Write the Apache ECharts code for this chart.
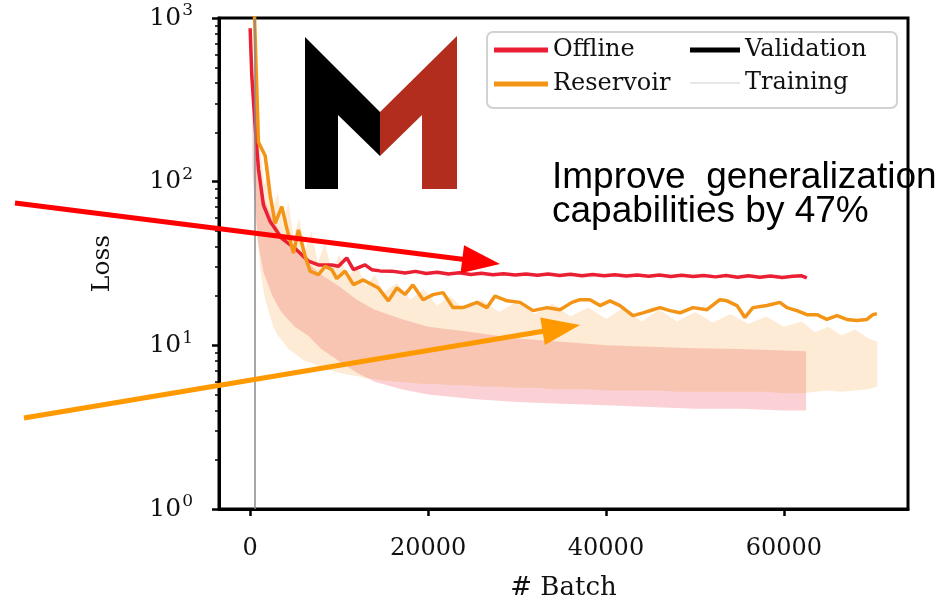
<!DOCTYPE html>
<html>
<head>
<meta charset="utf-8">
<script src="https://cdn.jsdelivr.net/npm/echarts@6/dist/echarts.min.js"></script>
<style>
  html, body { margin: 0; padding: 0; background: #fff; }
  #chart { width: 944px; height: 606px; }
</style>
</head>
<body>
<div id="chart"></div>
<script>
// validation loss, offline training (red)
const offlineValBatch = [0, 190, 560, 935, 1500, 2250, 3560, 5060, 6550, 7680,
  9180, 9930, 10860, 11610, 12920, 13670, 14600, 15920, 17420, 18600,
  19800, 21000, 22300, 23500, 24800, 26000, 27300, 28500, 29800, 31000,
  32300, 33500, 34800, 36000, 37300, 38500, 39800, 41000, 42300, 43500,
  44800, 46000, 47300, 48500, 49800, 51000, 52300, 53500, 54800, 56000,
  57300, 58500, 59800, 61000, 62000, 62580];
const offlineValLoss = [866, 441, 219, 120, 71.8, 57, 45, 39, 32.7, 31,
  31, 30.4, 34.2, 29, 31, 29, 28.5, 28.4, 27.7, 28.3,
  27.5, 28.0, 27.3, 27.8, 27.1, 27.6, 27.0, 27.4, 26.9, 27.3,
  26.8, 27.3, 26.7, 27.2, 26.6, 27.1, 26.6, 27.0, 26.5, 26.9,
  26.4, 26.9, 26.3, 26.8, 26.3, 26.7, 26.2, 26.7, 26.1, 26.6,
  26.1, 26.5, 26.0, 26.4, 26.6, 25.8];

// validation loss, reservoir training (orange)
const reservoirValBatch = [450, 935, 1690, 2250, 2810, 3560, 4120, 4870, 5430, 6180,
  6740, 7680, 8430, 9180, 9740, 10670, 11610, 12730, 14420, 15540,
  16480, 17420, 18300, 19440, 20560, 21690, 22800, 23930, 25500, 26630,
  27530, 28880, 30340, 31800, 33370, 34830, 36180, 37080, 38200, 39330,
  40450, 41570, 43030, 44160, 45280, 46070, 47190, 48310, 49780, 51350,
  52810, 53600, 54720, 55620, 56520, 58090, 59550, 60340, 61460, 62580,
  63710, 64830, 65960, 67080, 68200, 69330, 70000, 70450];
const reservoirValLoss = [1200, 174, 144, 82.6, 55.6, 70.3, 51.9, 36.6, 50.7, 35,
  28.4, 27, 30.4, 29, 25.6, 28.4, 23.5, 25.1, 22.4, 18.7,
  22.4, 20.5, 23.4, 19, 20.4, 21, 17, 17, 18.3, 17,
  20, 18.7, 18.3, 16.3, 17, 16.5, 18.3, 19, 19, 17.5,
  18.7, 17.5, 15.2, 15.8, 16.5, 17, 16.3, 15.8, 17, 16.5,
  19, 18.7, 17.5, 14.8, 17, 17.5, 18.3, 17, 16.3, 15.4,
  15.4, 14.4, 15.2, 14.4, 14.2, 14.4, 15.4, 15.6];

// training loss envelopes (the curves oscillate between low and high)
const offlineTrainBatch = [250, 800, 1500, 2500, 3500, 5000, 6500, 8000, 10000, 12000,
  14000, 17000, 20000, 25000, 30000, 35000, 40000, 45000, 50000, 55000, 60000, 62500];
const offlineTrainLow = [120, 45, 28, 20, 16, 13, 11.5, 9.5, 8, 6.8,
  6, 5.4, 5, 4.7, 4.5, 4.4, 4.3, 4.2, 4.1, 4.1, 4.0, 4.0];
const offlineTrainHigh = [260, 130, 80, 60, 48, 38, 32, 27, 23, 19,
  16.5, 14.5, 13, 12, 11, 10.5, 10, 9.8, 9.6, 9.5, 9.3, 9.2];

const reservoirTrainBatch = [400, 700, 1100, 1600, 2100, 2600, 3100, 3700, 4300, 4900,
  5500, 6200, 6900, 7600, 8400, 9200, 10000, 11000, 12000, 13000,
  14000, 15000, 16500, 18000, 19500, 21000, 22500, 24000, 26000, 28000,
  30000, 32000, 34000, 36000, 38000, 40000, 42000, 44000, 46000, 48000,
  50000, 52000, 54000, 56000, 58000, 60000, 62000, 63500, 65000, 66500,
  68000, 69500, 70500];
const reservoirTrainLow = [150, 60, 30, 20, 16, 13, 11.5, 10.5, 9.5, 9,
  8.5, 8, 7.8, 7.5, 7.2, 7, 6.8, 6.6, 6.5, 6.3,
  6.2, 6.1, 6, 5.9, 5.8, 5.8, 5.7, 5.7, 5.6, 5.6,
  5.5, 5.5, 5.4, 5.4, 5.4, 5.3, 5.3, 5.3, 5.3, 5.2,
  5.2, 5.2, 5.2, 5.2, 5.2, 5.1, 5.1, 5.2, 5.3, 5.2,
  5.3, 5.4, 5.6];
const reservoirTrainHigh = [500, 300, 160, 95, 130, 70, 85, 55, 75, 45,
  60, 38, 50, 32, 42, 28, 36, 26, 31, 23,
  27, 21, 24, 19, 22, 17.5, 20, 16.5, 19, 16,
  18.5, 15.5, 18, 15, 17, 14.5, 17, 14, 16.5, 14,
  16, 13.8, 15.5, 13.5, 15, 13, 14, 12, 13, 11.5,
  12.5, 11, 10.5];

const xTicks = [0, 20000, 40000, 60000];
const yMinorTicks = [2, 3, 4, 5, 6, 7, 8, 9, 20, 30, 40, 50, 60, 70, 80, 90,
  200, 300, 400, 500, 600, 700, 800, 900];
const warmupBatch = 560;

const SERIF = '"DejaVu Serif", "Liberation Serif", serif';
const SANS = '"Liberation Sans", Arial, sans-serif';
const RED = '#ea1f33';
const ORANGE = '#f39416';

const chart = echarts.init(document.getElementById('chart'));

// 训练损失带：在上下包络之间填充
function bandSeries(name, batches, lows, highs, fill) {
  return {
    name: name,
    type: 'custom',
    silent: true,
    z: 1,
    encode: {x: 0, y: [1, 2]},
    data: batches.map((b, i) => [b, lows[i], highs[i]]),
    renderItem(params, api) {
      if (params.dataIndex !== 0) return null;
      const top = batches.map((b, i) => api.coord([b, highs[i]]));
      const bottom = batches.map((b, i) => api.coord([b, lows[i]])).reverse();
      const points = echarts.graphic.clipPointsByRect(top.concat(bottom), params.coordSys);
      return {type: 'polygon', shape: {points: points}, style: {fill: fill}};
    }
  };
}

function arrow(x1, y1, x2, y2, color) {
  const len = 38, half = 14;
  const d = Math.hypot(x2 - x1, y2 - y1);
  const ux = (x2 - x1) / d, uy = (y2 - y1) / d;
  const bx = x2 - ux * len, by = y2 - uy * len;
  return [
    {type: 'line', z: 20, shape: {x1: x1, y1: y1, x2: bx + ux * 2, y2: by + uy * 2},
      style: {stroke: color, lineWidth: 5}},
    {type: 'polygon', z: 20,
      shape: {points: [[x2, y2], [bx - uy * half, by + ux * half], [bx + uy * half, by - ux * half]]},
      style: {fill: color}}
  ];
}

const legendText = {fontFamily: SERIF, fontSize: 24, color: '#111'};

const option = {
  backgroundColor: '#fff',
  animation: false,
  grid: {left: 219, right: 36, top: 18, bottom: 93, show: true, borderColor: '#000', borderWidth: 3},
  xAxis: {
    type: 'value',
    min: -3500,
    max: 73950,
    name: '# Batch',
    nameLocation: 'middle',
    nameGap: 66,
    nameTextStyle: {fontFamily: SERIF, fontSize: 26, color: '#111'},
    axisLine: {onZero: false, lineStyle: {color: '#000', width: 3}},
    axisTick: {customValues: xTicks, length: 7, lineStyle: {color: '#000', width: 2.5}},
    axisLabel: {customValues: xTicks, margin: 28, fontFamily: SERIF, fontSize: 24, color: '#111',
      formatter: v => String(v)},
    splitLine: {show: false}
  },
  yAxis: [
    {
      type: 'log',
      logBase: 10,
      min: 1,
      max: 1000,
      name: 'Loss',
      nameLocation: 'middle',
      nameRotate: 90,
      nameGap: 104,
      nameTextStyle: {fontFamily: SERIF, fontSize: 25, color: '#111'},
      axisLine: {show: true, onZero: false, lineStyle: {color: '#000', width: 3}},
      axisTick: {length: 7, lineStyle: {color: '#000', width: 2.5}},
      axisLabel: {
        margin: 26,
        formatter: v => '{b|10}{s|' + Math.round(Math.log10(v)) + '}',
        rich: {
          b: {fontFamily: SERIF, fontSize: 25, color: '#111'},
          s: {fontFamily: SERIF, fontSize: 17, color: '#111', padding: [0, 0, 14, 1]}
        }
      },
      splitLine: {show: false}
    },
    {
      // minor ticks of the log axis, placed in decades
      type: 'value',
      min: 0,
      max: 3,
      position: 'left',
      axisLine: {show: false, onZero: false},
      axisLabel: {show: false},
      axisTick: {show: true, customValues: yMinorTicks.map(v => Math.log10(v)), length: 4,
        lineStyle: {color: '#000', width: 1.5}},
      splitLine: {show: false}
    }
  ],
  legend: [
    {
      data: ['Offline', 'Reservoir'],
      orient: 'vertical',
      left: 494, top: 38,
      icon: 'rect', itemWidth: 54, itemHeight: 5, itemGap: 10,
      padding: 0,
      textStyle: legendText
    },
    {
      data: ['Validation'],
      orient: 'vertical',
      left: 690, top: 38,
      icon: 'rect', itemWidth: 50, itemHeight: 5,
      padding: 0,
      textStyle: legendText
    },
    {
      data: ['Training'],
      orient: 'vertical',
      left: 690, top: 71,
      icon: 'rect', itemWidth: 50, itemHeight: 1,
      padding: 0,
      textStyle: legendText
    }
  ],
  series: [
    bandSeries('Offline training', offlineTrainBatch, offlineTrainLow, offlineTrainHigh, 'rgba(238,40,60,0.21)'),
    bandSeries('Reservoir training', reservoirTrainBatch, reservoirTrainLow, reservoirTrainHigh, 'rgba(245,150,30,0.19)'),
    {
      name: 'Offline',
      type: 'line',
      z: 3,
      symbol: 'none',
      color: RED,
      lineStyle: {width: 3.5},
      data: offlineValBatch.map((b, i) => [b, offlineValLoss[i]]),
      markLine: {
        silent: true,
        symbol: 'none',
        label: {show: false},
        lineStyle: {color: '#8a8a8a', width: 1.5, type: 'solid'},
        data: [{xAxis: warmupBatch}]
      }
    },
    {
      name: 'Reservoir',
      type: 'line',
      z: 3,
      symbol: 'none',
      color: ORANGE,
      lineStyle: {width: 3.5},
      data: reservoirValBatch.map((b, i) => [b, reservoirValLoss[i]])
    },
    {name: 'Validation', type: 'line', symbol: 'none', color: '#000', data: []},
    {name: 'Training', type: 'line', symbol: 'none', color: '#cfcfcf', data: []}
  ],
  graphic: [
    {type: 'rect', z: 3, shape: {x: 487, y: 32, width: 410, height: 76, r: 6},
      style: {fill: 'rgba(255,255,255,0.85)', stroke: '#d2d2d2', lineWidth: 2}},
    // logo
    {type: 'polygon', z: 20, shape: {points: [[305, 37], [380, 112], [380, 156], [338, 115], [338, 189], [305, 189]]},
      style: {fill: '#000'}},
    {type: 'polygon', z: 20, shape: {points: [[380, 112], [457, 36], [457, 189], [422, 189], [422, 115], [380, 156]]},
      style: {fill: '#b22d1e'}},
    ...arrow(15, 203, 500, 264, '#ff0000'),
    ...arrow(24, 418, 580, 325, '#ff9900'),
    {type: 'text', z: 20, x: 552, y: 161,
      style: {text: 'Improve  generalization\ncapabilities by 47%', fontFamily: SANS, fontSize: 37,
        lineHeight: 34, fill: '#000'}}
  ]
};

chart.setOption(option);
</script>
</body>
</html>
